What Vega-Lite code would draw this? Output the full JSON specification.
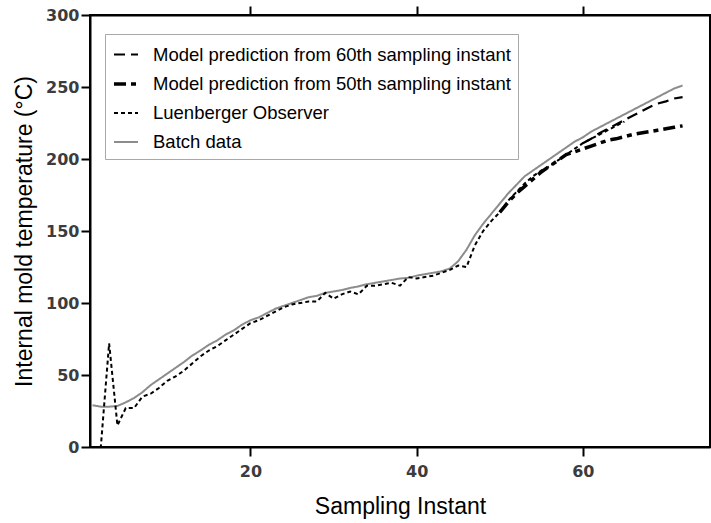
{
  "$schema": "https://vega.github.io/schema/vega-lite/v6.json",
  "width": 620,
  "height": 432,
  "autosize": {"type": "none"},
  "padding": {"left": 90, "top": 15, "right": 1, "bottom": 76},
  "background": "white",
  "config": {
    "view": {"stroke": "black", "strokeWidth": 2},
    "axis": {
      "domainColor": "black", "domainWidth": 2, "tickColor": "black", "tickWidth": 2, "tickSize": 9,
      "grid": false,
      "labelFont": "DejaVu Sans", "labelFontWeight": "bold", "labelFontSize": 16, "labelColor": "#3c3c3c",
      "titleFont": "Liberation Sans", "titleFontWeight": "normal", "titleFontSize": 23, "titleColor": "black"
    },
    "legend": {
      "orient": "none", "legendX": 15, "legendY": 19,
      "strokeColor": "#a8a8a8", "padding": 7, "fillColor": "white",
      "symbolType": "stroke", "symbolSize": 576, "symbolStrokeColor": "black",
      "labelFont": "Liberation Sans", "labelFontSize": 18.5, "labelColor": "black", "labelOffset": 13,
      "rowPadding": 6, "labelLimit": 500
    }
  },
  "data": {"values": [
    {"x":1,"y":29,"s":"Batch data"},{"x":2,"y":28,"s":"Batch data"},{"x":3,"y":28,"s":"Batch data"},{"x":4,"y":28.5,"s":"Batch data"},{"x":5,"y":31,"s":"Batch data"},{"x":6,"y":34,"s":"Batch data"},{"x":7,"y":38,"s":"Batch data"},{"x":8,"y":43,"s":"Batch data"},{"x":9,"y":47,"s":"Batch data"},{"x":10,"y":51,"s":"Batch data"},{"x":11,"y":55,"s":"Batch data"},{"x":12,"y":59,"s":"Batch data"},{"x":13,"y":63.5,"s":"Batch data"},{"x":14,"y":67,"s":"Batch data"},{"x":15,"y":71,"s":"Batch data"},{"x":16,"y":74,"s":"Batch data"},{"x":17,"y":78,"s":"Batch data"},{"x":18,"y":81,"s":"Batch data"},{"x":19,"y":85,"s":"Batch data"},{"x":20,"y":88,"s":"Batch data"},{"x":21,"y":90,"s":"Batch data"},{"x":22,"y":93,"s":"Batch data"},{"x":23,"y":96,"s":"Batch data"},{"x":24,"y":98,"s":"Batch data"},{"x":25,"y":100,"s":"Batch data"},{"x":26,"y":102,"s":"Batch data"},{"x":27,"y":104,"s":"Batch data"},{"x":28,"y":105,"s":"Batch data"},{"x":29,"y":107,"s":"Batch data"},{"x":30,"y":108,"s":"Batch data"},{"x":31,"y":109,"s":"Batch data"},{"x":32,"y":110.5,"s":"Batch data"},{"x":33,"y":111.5,"s":"Batch data"},{"x":34,"y":113,"s":"Batch data"},{"x":35,"y":114,"s":"Batch data"},{"x":36,"y":115,"s":"Batch data"},{"x":37,"y":116,"s":"Batch data"},{"x":38,"y":117,"s":"Batch data"},{"x":39,"y":117.5,"s":"Batch data"},{"x":40,"y":119,"s":"Batch data"},{"x":41,"y":120,"s":"Batch data"},{"x":42,"y":121,"s":"Batch data"},{"x":43,"y":122,"s":"Batch data"},{"x":44,"y":124,"s":"Batch data"},{"x":45,"y":129,"s":"Batch data"},{"x":46,"y":137,"s":"Batch data"},{"x":47,"y":147,"s":"Batch data"},{"x":48,"y":155,"s":"Batch data"},{"x":49,"y":162,"s":"Batch data"},{"x":50,"y":169,"s":"Batch data"},{"x":51,"y":176,"s":"Batch data"},{"x":52,"y":182,"s":"Batch data"},{"x":53,"y":188,"s":"Batch data"},{"x":54,"y":192,"s":"Batch data"},{"x":55,"y":196,"s":"Batch data"},{"x":56,"y":200,"s":"Batch data"},{"x":57,"y":204,"s":"Batch data"},{"x":58,"y":208,"s":"Batch data"},{"x":59,"y":212,"s":"Batch data"},{"x":60,"y":215,"s":"Batch data"},{"x":61,"y":219,"s":"Batch data"},{"x":62,"y":222,"s":"Batch data"},{"x":63,"y":225,"s":"Batch data"},{"x":64,"y":228,"s":"Batch data"},{"x":65,"y":231,"s":"Batch data"},{"x":66,"y":234,"s":"Batch data"},{"x":67,"y":237,"s":"Batch data"},{"x":68,"y":240,"s":"Batch data"},{"x":69,"y":243,"s":"Batch data"},{"x":70,"y":246,"s":"Batch data"},{"x":71,"y":249,"s":"Batch data"},{"x":72,"y":251,"s":"Batch data"},
    {"x":1,"y":0,"s":"Luenberger Observer"},{"x":2,"y":0,"s":"Luenberger Observer"},{"x":3,"y":72,"s":"Luenberger Observer"},{"x":4,"y":15,"s":"Luenberger Observer"},{"x":5,"y":27,"s":"Luenberger Observer"},{"x":6,"y":27,"s":"Luenberger Observer"},{"x":7,"y":35,"s":"Luenberger Observer"},{"x":8,"y":37,"s":"Luenberger Observer"},{"x":9,"y":41,"s":"Luenberger Observer"},{"x":10,"y":46,"s":"Luenberger Observer"},{"x":11,"y":49,"s":"Luenberger Observer"},{"x":12,"y":53,"s":"Luenberger Observer"},{"x":13,"y":58,"s":"Luenberger Observer"},{"x":14,"y":63,"s":"Luenberger Observer"},{"x":15,"y":67,"s":"Luenberger Observer"},{"x":16,"y":70,"s":"Luenberger Observer"},{"x":17,"y":74,"s":"Luenberger Observer"},{"x":18,"y":78,"s":"Luenberger Observer"},{"x":19,"y":82,"s":"Luenberger Observer"},{"x":20,"y":86,"s":"Luenberger Observer"},{"x":21,"y":88,"s":"Luenberger Observer"},{"x":22,"y":91,"s":"Luenberger Observer"},{"x":23,"y":94,"s":"Luenberger Observer"},{"x":24,"y":97,"s":"Luenberger Observer"},{"x":25,"y":99,"s":"Luenberger Observer"},{"x":26,"y":100,"s":"Luenberger Observer"},{"x":27,"y":101,"s":"Luenberger Observer"},{"x":28,"y":101,"s":"Luenberger Observer"},{"x":29,"y":107,"s":"Luenberger Observer"},{"x":30,"y":103,"s":"Luenberger Observer"},{"x":31,"y":106,"s":"Luenberger Observer"},{"x":32,"y":108,"s":"Luenberger Observer"},{"x":33,"y":106,"s":"Luenberger Observer"},{"x":34,"y":112,"s":"Luenberger Observer"},{"x":35,"y":112,"s":"Luenberger Observer"},{"x":36,"y":113,"s":"Luenberger Observer"},{"x":37,"y":114,"s":"Luenberger Observer"},{"x":38,"y":112,"s":"Luenberger Observer"},{"x":39,"y":118,"s":"Luenberger Observer"},{"x":40,"y":117,"s":"Luenberger Observer"},{"x":41,"y":118,"s":"Luenberger Observer"},{"x":42,"y":119,"s":"Luenberger Observer"},{"x":43,"y":121,"s":"Luenberger Observer"},{"x":44,"y":123,"s":"Luenberger Observer"},{"x":45,"y":126,"s":"Luenberger Observer"},{"x":46,"y":125,"s":"Luenberger Observer"},{"x":47,"y":140,"s":"Luenberger Observer"},{"x":48,"y":150,"s":"Luenberger Observer"},{"x":49,"y":157,"s":"Luenberger Observer"},{"x":50,"y":163,"s":"Luenberger Observer"},{"x":51,"y":171,"s":"Luenberger Observer"},{"x":52,"y":177,"s":"Luenberger Observer"},{"x":53,"y":183,"s":"Luenberger Observer"},{"x":54,"y":188,"s":"Luenberger Observer"},{"x":55,"y":192,"s":"Luenberger Observer"},{"x":56,"y":195,"s":"Luenberger Observer"},{"x":57,"y":199,"s":"Luenberger Observer"},{"x":58,"y":203,"s":"Luenberger Observer"},{"x":59,"y":207,"s":"Luenberger Observer"},{"x":60,"y":211,"s":"Luenberger Observer"},{"x":61,"y":214,"s":"Luenberger Observer"},{"x":62,"y":217,"s":"Luenberger Observer"},{"x":63,"y":220,"s":"Luenberger Observer"},{"x":64,"y":223,"s":"Luenberger Observer"},{"x":65,"y":226,"s":"Luenberger Observer"},
    {"x":50,"y":163,"s":"Model prediction from 50th sampling instant"},{"x":51,"y":170,"s":"Model prediction from 50th sampling instant"},{"x":52,"y":176,"s":"Model prediction from 50th sampling instant"},{"x":53,"y":181,"s":"Model prediction from 50th sampling instant"},{"x":54,"y":186,"s":"Model prediction from 50th sampling instant"},{"x":55,"y":191,"s":"Model prediction from 50th sampling instant"},{"x":56,"y":195,"s":"Model prediction from 50th sampling instant"},{"x":57,"y":199,"s":"Model prediction from 50th sampling instant"},{"x":58,"y":203,"s":"Model prediction from 50th sampling instant"},{"x":59,"y":205,"s":"Model prediction from 50th sampling instant"},{"x":60,"y":207,"s":"Model prediction from 50th sampling instant"},{"x":61,"y":209,"s":"Model prediction from 50th sampling instant"},{"x":62,"y":211,"s":"Model prediction from 50th sampling instant"},{"x":63,"y":213,"s":"Model prediction from 50th sampling instant"},{"x":64,"y":214,"s":"Model prediction from 50th sampling instant"},{"x":65,"y":215.5,"s":"Model prediction from 50th sampling instant"},{"x":66,"y":217,"s":"Model prediction from 50th sampling instant"},{"x":67,"y":218,"s":"Model prediction from 50th sampling instant"},{"x":68,"y":219,"s":"Model prediction from 50th sampling instant"},{"x":69,"y":220,"s":"Model prediction from 50th sampling instant"},{"x":70,"y":221,"s":"Model prediction from 50th sampling instant"},{"x":71,"y":222,"s":"Model prediction from 50th sampling instant"},{"x":72,"y":223,"s":"Model prediction from 50th sampling instant"},
    {"x":60,"y":211,"s":"Model prediction from 60th sampling instant"},{"x":61,"y":214,"s":"Model prediction from 60th sampling instant"},{"x":62,"y":218,"s":"Model prediction from 60th sampling instant"},{"x":63,"y":221,"s":"Model prediction from 60th sampling instant"},{"x":64,"y":224,"s":"Model prediction from 60th sampling instant"},{"x":65,"y":227,"s":"Model prediction from 60th sampling instant"},{"x":66,"y":230,"s":"Model prediction from 60th sampling instant"},{"x":67,"y":233,"s":"Model prediction from 60th sampling instant"},{"x":68,"y":236,"s":"Model prediction from 60th sampling instant"},{"x":69,"y":238.5,"s":"Model prediction from 60th sampling instant"},{"x":70,"y":240,"s":"Model prediction from 60th sampling instant"},{"x":71,"y":242,"s":"Model prediction from 60th sampling instant"},{"x":72,"y":243,"s":"Model prediction from 60th sampling instant"}
  ]},
  "layer": [
    {
      "mark": {"type": "line", "strokeCap": "butt"},
      "encoding": {
        "x": {"field": "x", "type": "quantitative", "scale": {"domain": [0.7, 75.3], "nice": false, "zero": false},
              "axis": {"values": [20, 40, 60], "title": "Sampling Instant", "labelPadding": 7, "titlePadding": 16}},
        "y": {"field": "y", "type": "quantitative", "scale": {"domain": [0, 300], "nice": false},
              "axis": {"values": [0, 50, 100, 150, 200, 250, 300], "title": "Internal mold temperature (°C)", "labelPadding": 2, "titlePadding": 9}},
        "color": {"field": "s", "type": "nominal",
                  "scale": {"domain": ["Model prediction from 60th sampling instant", "Model prediction from 50th sampling instant", "Luenberger Observer", "Batch data"],
                            "range": ["black", "black", "black", "#8c8c8c"]},
                  "legend": {"title": null}},
        "strokeDash": {"field": "s", "type": "nominal",
                  "scale": {"domain": ["Model prediction from 60th sampling instant", "Model prediction from 50th sampling instant", "Luenberger Observer", "Batch data"],
                            "range": [[11, 6], [12, 5, 5, 5], [4, 3], [1, 0]]},
                  "legend": {"title": null}},
        "strokeWidth": {"field": "s", "type": "nominal",
                  "scale": {"type": "ordinal", "domain": ["Model prediction from 60th sampling instant", "Model prediction from 50th sampling instant", "Luenberger Observer", "Batch data"],
                            "range": [2.2, 3.5, 2, 2]},
                  "legend": {"title": null}}
      }
    },
    {
      "mark": {"type": "line", "opacity": 0},
      "encoding": {
        "x": {"field": "x", "type": "quantitative", "axis": {"orient": "top", "values": [20, 40, 60], "labels": false, "title": null}},
        "y": {"field": "y", "type": "quantitative", "axis": null}
      }
    }
  ],
  "resolve": {"axis": {"x": "independent", "y": "independent"}}
}
